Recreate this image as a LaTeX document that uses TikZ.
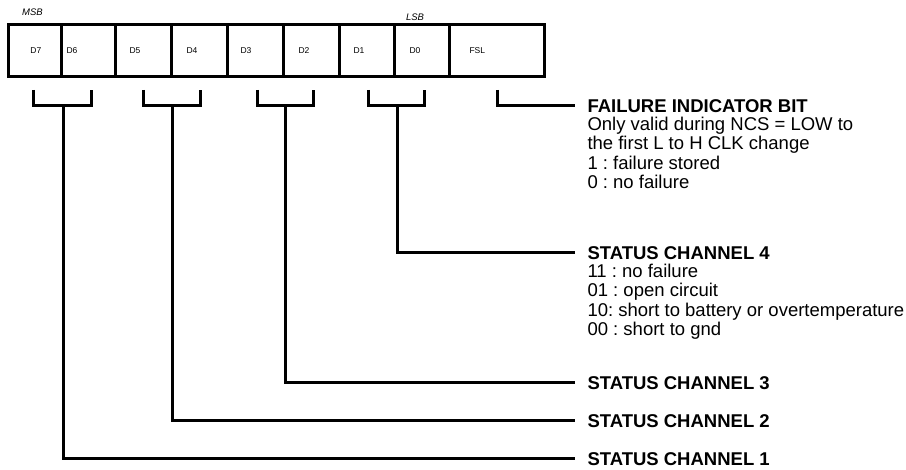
\documentclass[tikz,border=0pt]{standalone}
\usepackage{fontspec}
\setmainfont{Liberation Sans}
\usetikzlibrary{positioning}
\frenchspacing

\begin{document}
\begin{tikzpicture}[x=1pt, y=-1pt, line width=3pt,
    cell/.style={draw, minimum height=52pt, inner sep=0pt},
    bitlbl/.style={anchor=west, inner sep=0pt, font=\fontsize{8.5}{10}\selectfont},
    head/.style={anchor=west, inner xsep=11pt, inner ysep=0pt, font=\fontsize{18.5}{20}\selectfont\bfseries},
    desc/.style={align=left, inner sep=0pt, font=\fontsize{18.5}{19.5}\selectfont}]
      \useasboundingbox (0,0) rectangle (906,470);

      % MSB / LSB marks
      \node (msb) [font=\fontsize{9.5}{10}\selectfont\itshape] at (32.5,12.5) {MSB};
      \node (lsb) [font=\fontsize{9.5}{10}\selectfont\itshape] at (415,17) {LSB};

      % Register cells
      \node (c7) [cell, minimum width=53pt] at (34.5,51) {};
      \node (c6) [cell, minimum width=54pt] at (88,51) {};
      \node (c5) [cell, minimum width=56pt] at (143,51) {};
      \node (c4) [cell, minimum width=56pt] at (199,51) {};
      \node (c3) [cell, minimum width=56pt] at (255,51) {};
      \node (c2) [cell, minimum width=56pt] at (311,51) {};
      \node (c1) [cell, minimum width=55pt] at (366.5,51) {};
      \node (c0) [cell, minimum width=55pt] at (421.5,51) {};
      \node (cfsl) [cell, minimum width=95pt] at (496.5,51) {};

      % Bit labels
      \node (d7) [bitlbl] at (29,51) {D7};
      \node (d6) [bitlbl] at (65,51) {D6};
      \node (d5) [bitlbl] at (128,51) {D5};
      \node (d4) [bitlbl] at (185,51) {D4};
      \node (d3) [bitlbl] at (239,51) {D3};
      \node (d2) [bitlbl] at (297,51) {D2};
      \node (d1) [bitlbl] at (352,51) {D1};
      \node (d0) [bitlbl] at (408,51) {D0};
      \node (fsl) [bitlbl] at (468,51) {FSL};

      % Brackets under the register
      \draw (33,90) |- (91,106) -- (91,90);
      \draw (143,90) |- (200,106) -- (200,90);
      \draw (257,90) |- (313,106) -- (313,90);
      \draw (368,90) |- (424,106) -- (424,90);
      \coordinate (br1) at (63,106);
      \coordinate (br2) at (172,106);
      \coordinate (br3) at (285,106);
      \coordinate (br4) at (397,106);
      \coordinate (brf) at (497,90);

      % Failure indicator bit
      \node (failhd) [head] at (575,106) {FAILURE INDICATOR BIT};
      \node (failtxt) [desc, below right=1.5pt and 11pt of failhd.south west] {Only valid during NCS = LOW to\\the first L to H CLK change\\1 : failure stored\\0 : no failure};
      \draw (brf) |- (failhd.west);

      % Status channel 4
      \node (ch4hd) [head] at (575,253) {STATUS CHANNEL 4};
      \node (ch4txt) [desc, below right=1.5pt and 11pt of ch4hd.south west] {11 : no failure\\01 : open circuit\\10: short to battery or overtemperature\\00 : short to gnd};
      \draw (br4) |- (ch4hd.west);

      % Status channels 3 to 1
      \node (ch3hd) [head] at (575,383) {STATUS CHANNEL 3};
      \node (ch2hd) [head] at (575,421) {STATUS CHANNEL 2};
      \node (ch1hd) [head] at (575,459) {STATUS CHANNEL 1};
      \draw (br3) |- (ch3hd.west);
      \draw (br2) |- (ch2hd.west);
      \draw (br1) |- (ch1hd.west);

\end{tikzpicture}
\end{document}
